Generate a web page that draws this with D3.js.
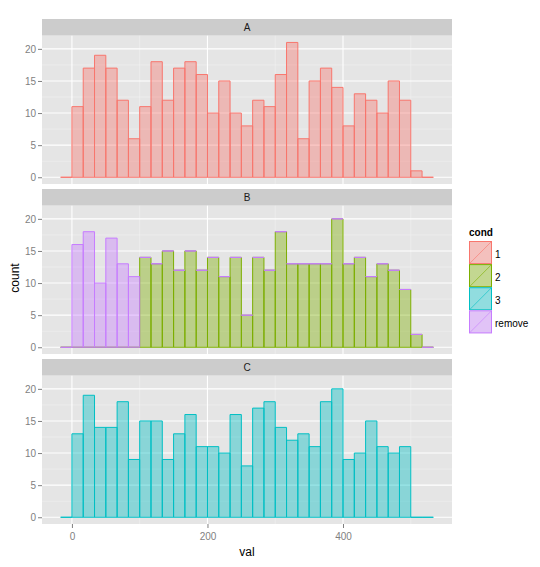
<!DOCTYPE html>
<html><head><meta charset="utf-8">
<script src="https://cdn.jsdelivr.net/npm/d3@7"></script>
<style>body{margin:0;background:#fff}svg{display:block}</style>
</head><body>
<script>
// ---- data ----
const binWidth = 50 / 3;          // histogram bin width (range/30)
const binStart = -50 / 3;         // left edge of first bin
const countsA = [0,11,17,19,17,12,6,11,18,12,17,18,16,10,15,10,8,12,11,16,21,6,15,17,14,8,13,12,10,15,12,1,0];
const countsB2 = [0,0,0,0,0,0,0,14,13,15,12,15,12,14,11,14,5,14,12,18,13,13,13,13,20,13,14,11,13,12,9,2,0];
const countsBremove = [0,16,18,10,17,13,11,0,0,0,0,0,0,0,0,0,0,0,0,0,0,0,0,0,0,0,0,0,0,0,0,0,0];
const countsC = [0,13,19,14,14,18,9,15,15,9,13,16,11,11,10,16,8,17,18,14,12,13,11,18,20,9,10,15,11,10,11,0,0];
const facets = ["A","B","C"];
const condLevels = ["1","2","3","remove"];
const condColors = ["#F8766D","#7CAE00","#00BFC4","#C77CFF"];
const xTicks = [0,200,400];
const yTicks = [0,5,10,15,20];

const W = 540, H = 567;
const svg = d3.select("body").append("svg").attr("width",W).attr("height",H);
const font = "'Liberation Sans', Arial, sans-serif";

const left = 42, right = 452;
const stripH = 16.7, plotH = 148.3, period = 170, top0 = 19;

const x = d3.scaleLinear().domain([-44.17, 560.83]).range([left, right]);
const color = d3.scaleOrdinal().domain(condLevels).range(condColors);

const zeros = countsA.map(() => 0);
const facetSeries = {
  A: [{cond:"1", counts:countsA, base:zeros}],
  B: [{cond:"2", counts:countsB2, base:zeros},
      {cond:"remove", counts:countsBremove, base:countsB2}],
  C: [{cond:"3", counts:countsC, base:zeros}]
};

facets.forEach((f, i) => {
  const sTop = top0 + i*period;
  const pTop = sTop + stripH;
  const pBot = pTop + plotH;
  const y = d3.scaleLinear().domain([-1.05, 22.05]).range([pBot, pTop]);
  const g = svg.append("g");

  g.append("rect").attr("x",left).attr("y",sTop).attr("width",right-left).attr("height",stripH).attr("fill","#CCCCCC");
  g.append("text").attr("x",(left+right)/2).attr("y",sTop+stripH/2).attr("dy","0.35em")
    .attr("text-anchor","middle").attr("font-family",font).attr("font-size",10).attr("fill","#1A1A1A").text(f);

  g.append("rect").attr("x",left).attr("y",pTop).attr("width",right-left).attr("height",plotH).attr("fill","#E5E5E5");
  [2.5,7.5,12.5,17.5].forEach(v=>{
    g.append("line").attr("x1",left).attr("x2",right).attr("y1",y(v)).attr("y2",y(v)).attr("stroke","#F2F2F2").attr("stroke-width",0.6);
  });
  [100,300,500].forEach(v=>{
    g.append("line").attr("x1",x(v)).attr("x2",x(v)).attr("y1",pTop).attr("y2",pBot).attr("stroke","#F2F2F2").attr("stroke-width",0.6);
  });
  yTicks.forEach(v=>{
    g.append("line").attr("x1",left).attr("x2",right).attr("y1",y(v)).attr("y2",y(v)).attr("stroke","#FFFFFF").attr("stroke-width",1.1);
  });
  xTicks.forEach(v=>{
    g.append("line").attr("x1",x(v)).attr("x2",x(v)).attr("y1",pTop).attr("y2",pBot).attr("stroke","#FFFFFF").attr("stroke-width",1.1);
  });

  facetSeries[f].forEach(s=>{
    const c = color(s.cond);
    const data = s.counts.map((v,k)=>({x0: binStart + k*binWidth, x1: binStart + (k+1)*binWidth, y0: s.base[k], y1: s.base[k]+v}));
    g.append("g").selectAll("path").data(data).join("path")
      .attr("d",d=>{
        const a = x(d.x0), b = x(d.x1), t = y(d.y1), u = y(d.y0);
        return `M${a},${u}L${a},${t}L${b},${t}L${b},${u}Z`;
      })
      .attr("fill",c).attr("fill-opacity",0.4)
      .attr("stroke",c).attr("stroke-width",1);
  });

  const ya = g.append("g").attr("transform",`translate(${left},0)`)
    .call(d3.axisLeft(y).tickValues(yTicks).tickSize(4).tickPadding(2));
  ya.select(".domain").remove();
  ya.selectAll("line").attr("stroke","#7F7F7F");
  ya.selectAll("text").attr("fill","#7F7F7F").attr("font-family",font).attr("font-size",10);

  if (i === facets.length-1) {
    const xa = g.append("g").attr("transform",`translate(0,${pBot})`)
      .call(d3.axisBottom(x).tickValues(xTicks).tickSize(4).tickPadding(5));
    xa.select(".domain").remove();
    xa.selectAll("line").attr("stroke","#7F7F7F");
    xa.selectAll("text").attr("fill","#7F7F7F").attr("font-family",font).attr("font-size",10);
  }
});

svg.append("text").attr("x",(left+right)/2).attr("y",556).attr("text-anchor","middle")
  .attr("font-family",font).attr("font-size",12).attr("fill","#000").text("val");
svg.append("text").attr("transform","translate(19,278) rotate(-90)").attr("text-anchor","middle")
  .attr("font-family",font).attr("font-size",12).attr("fill","#000").text("count");

const lg = svg.append("g").attr("transform","translate(469,0)");
lg.append("text").attr("x",0).attr("y",236).attr("font-family",font).attr("font-size",10)
  .attr("font-weight","bold").attr("fill","#000").text("cond");
condLevels.forEach((lv,k)=>{
  const ky = 241 + k*23.1;
  const c = color(lv);
  lg.append("rect").attr("x",0).attr("y",ky).attr("width",23).attr("height",23.1).attr("fill","#F2F2F2");
  lg.append("rect").attr("x",0.5).attr("y",ky+0.5).attr("width",22).attr("height",22.1)
    .attr("fill",c).attr("fill-opacity",0.4).attr("stroke",c).attr("stroke-width",1);
  lg.append("line").attr("x1",0.5).attr("y1",ky+22.6).attr("x2",22.5).attr("y2",ky+0.5)
    .attr("stroke",c).attr("stroke-width",0.6);
  lg.append("text").attr("x",26).attr("y",ky+13.5).attr("dy","0.35em").attr("font-family",font)
    .attr("font-size",10).attr("fill","#000").text(lv);
});
</script>
</body></html>
